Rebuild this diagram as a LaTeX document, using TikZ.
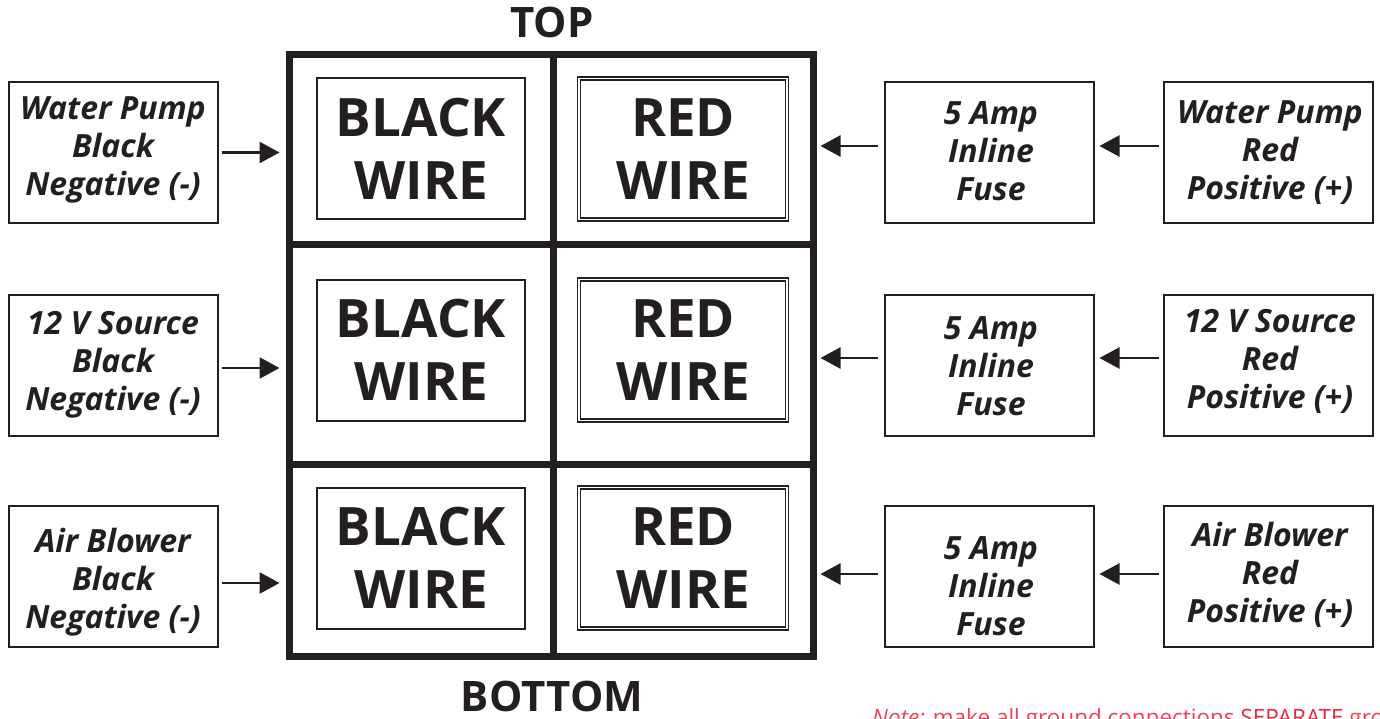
\documentclass[tikz,border=0pt]{standalone}
\usepackage{fontspec}
\setmainfont{Open Sans}
\usetikzlibrary{arrows.meta}
\definecolor{ink}{HTML}{231F20}
\definecolor{notered}{HTML}{EE4258}
\definecolor{sepred}{HTML}{E8263F}
\begin{document}
\begin{tikzpicture}[x=1pt,y=-1pt,
  cell/.style={draw=ink,line width=7pt,inner sep=0pt,minimum width=#1},
  wirebox/.style={draw=ink,line width=2pt,minimum width=208pt,minimum height=141pt,inner sep=0pt,align=center,text=ink,font=\fontsize{53}{63}\selectfont\bfseries},
  redbox/.style={wirebox,double=white,double distance=1.2pt,line width=1.6pt},
  sidebox/.style={draw=ink,line width=2pt,minimum width=209pt,minimum height=141pt,inner sep=0pt},
  sidetext/.style={inner sep=0pt,align=center,text=ink,font=\fontsize{32}{38}\selectfont\bfseries\itshape},
  arr/.style={draw=ink,line width=2.5pt,-{Triangle[length=20pt,width=21pt]}},
  title/.style={text=ink,font=\fontsize{42}{50}\selectfont\bfseries}
]
\useasboundingbox (0,0) rectangle (1380,719);
% grid cells
\node[cell=264pt,minimum height=190pt] (c11) at (421,150) {};
\node[cell=260pt,minimum height=190pt] (c12) at (683,150) {};
\node[cell=264pt,minimum height=219pt] (c21) at (421,354.5) {};
\node[cell=260pt,minimum height=219pt] (c22) at (683,354.5) {};
\node[cell=264pt,minimum height=192pt] (c31) at (421,560) {};
\node[cell=260pt,minimum height=192pt] (c32) at (683,560) {};
% inner wire boxes
\node[wirebox] (bw1) at (421,149) {BLACK\\WIRE};
\node[redbox]  (rw1) at (683,149) {RED\\WIRE};
\node[wirebox] (bw2) at (421,350) {BLACK\\WIRE};
\node[redbox]  (rw2) at (683,350) {RED\\WIRE};
\node[wirebox] (bw3) at (421,558) {BLACK\\WIRE};
\node[redbox]  (rw3) at (683,558) {RED\\WIRE};
% titles
\node[title] (top) at (552,22) {TOP};
\node[title] (bottom) at (552,696) {BOTTOM};
% left boxes
\node[sidebox] (lb1) at (113,152.5) {};
\node[sidebox] (lb2) at (113,365) {};
\node[sidebox] (lb3) at (113,576) {};
\node[sidetext] (lt1) at (113,149.5) {Water Pump\\Black\\Negative (-)};
\node[sidetext] (lt2) at (113,364.5) {12 V Source\\Black\\Negative (-)};
\node[sidetext] (lt3) at (113,582.5) {Air Blower\\Black\\Negative (-)};
% fuse boxes
\node[sidebox] (fb1) at (989,153) {};
\node[sidebox] (fb2) at (989,365) {};
\node[sidebox] (fb3) at (989,576) {};
\node[sidetext] (ft1) at (991,151.5) {5 Amp\\Inline\\Fuse};
\node[sidetext] (ft2) at (991,366.5) {5 Amp\\Inline\\Fuse};
\node[sidetext] (ft3) at (991,586.5) {5 Amp\\Inline\\Fuse};
% source boxes
\node[sidebox] (sb1) at (1268.5,153) {};
\node[sidebox] (sb2) at (1268.5,365) {};
\node[sidebox] (sb3) at (1268.5,576) {};
\node[sidetext] (st1) at (1270,152.5) {Water Pump\\Red\\Positive (+)};
\node[sidetext] (st2) at (1270,361.5) {12 V Source\\Red\\Positive (+)};
\node[sidetext] (st3) at (1270,574.5) {Air Blower\\Red\\Positive (+)};
% left arrows
\draw[arr,shorten <=3pt,shorten >=6pt] (lb1.east) -- (lb1.east -| c11.west);
\draw[arr,shorten <=3pt,shorten >=6pt] ([yshift=-3pt]lb2.east) -- ([yshift=-3pt]lb2.east -| c21.west);
\draw[arr,shorten <=3pt,shorten >=6pt] ([yshift=-7pt]lb3.east) -- ([yshift=-7pt]lb3.east -| c31.west);
% right arrows to grid
\draw[arr,shorten <=6pt,shorten >=4pt] ([yshift=7pt]fb1.west) -- ([yshift=7pt]fb1.west -| c12.east);
\draw[arr,shorten <=6pt,shorten >=4pt] ([yshift=7pt]fb2.west) -- ([yshift=7pt]fb2.west -| c22.east);
\draw[arr,shorten <=6pt,shorten >=4pt] ([yshift=2pt]fb3.west) -- ([yshift=2pt]fb3.west -| c32.east);
% source to fuse arrows
\draw[arr,shorten <=4pt,shorten >=5pt] ([yshift=7pt]sb1.west) -- ([yshift=7pt]sb1.west -| fb1.east);
\draw[arr,shorten <=4pt,shorten >=5pt] ([yshift=7pt]sb2.west) -- ([yshift=7pt]sb2.west -| fb2.east);
\draw[arr,shorten <=4pt,shorten >=5pt] ([yshift=2pt]sb3.west) -- ([yshift=2pt]sb3.west -| fb3.east);
% note (cut off by the page edge)
\node[anchor=base west,inner sep=0pt,text=notered,font=\fontsize{22.5}{26}\selectfont] (note) at (872,725) {\textit{Note:} make all ground connections \textcolor{sepred}{SEPARATE} gro};
\end{tikzpicture}
\end{document}
